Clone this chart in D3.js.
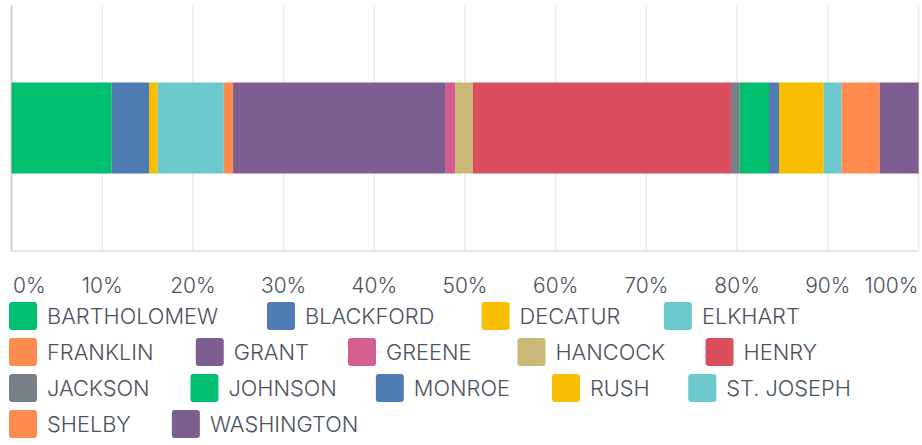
<!DOCTYPE html>
<html><head><meta charset="utf-8">
<script src="https://cdn.jsdelivr.net/npm/d3@7"></script>
<style>
html,body{margin:0;padding:0;background:#fff;}
svg{display:block;font-family:Inter,"Noto Sans",sans-serif;}
</style></head>
<body><svg id="c" width="922" height="445"></svg>
<script>
const counties = ["BARTHOLOMEW","BLACKFORD","DECATUR","ELKHART","FRANKLIN","GRANT","GREENE","HANCOCK","HENRY","JACKSON","JOHNSON","MONROE","RUSH","ST. JOSEPH","SHELBY","WASHINGTON"];
const shares = [11.05,4.11,0.96,7.28,1.03,23.37,1.10,1.98,28.45,0.96,3.23,1.10,4.93,1.98,4.19,4.30];
const colors = ["#00BF6F","#507CB6","#F9BE00","#6BC8CD","#FF8B4F","#7D5E90","#D25F90","#C9B878","#DB4E5D","#768086","#00BF6F","#507CB6","#F9BE00","#6BC8CD","#FF8B4F","#7D5E90"];
const tickValues = [0,10,20,30,40,50,60,70,80,90,100];
const tickLabels = ["0%","10%","20%","30%","40%","50%","60%","70%","80%","90%","100%"];
const barCategory = ["All"];

(function(){
const svg = d3.select("#c");
const pl = 11.5, pr = 918.5, pt = 5, pb = 251;
const x = d3.scaleLinear().domain([0,100]).range([pl,pr]);
const y = d3.scaleBand().domain(barCategory).range([pt,pb]).paddingInner(0.63).paddingOuter(0.315);
const textColor = "#4A5260";

svg.append("g").selectAll("line").data(tickValues.slice(1)).join("line")
  .attr("x1",d=>x(d)).attr("x2",d=>x(d)).attr("y1",pt).attr("y2",pb)
  .attr("stroke","#ebebeb").attr("stroke-width",1.5);
svg.append("line").attr("x1",pl).attr("x2",pr).attr("y1",pb).attr("y2",pb)
  .attr("stroke","#dcdcdc").attr("stroke-width",1.5);
svg.append("line").attr("x1",pl).attr("x2",pl).attr("y1",pt).attr("y2",pb)
  .attr("stroke","#cfcfcf").attr("stroke-width",1.8);

const stack = [];
let acc = 0;
shares.forEach((v,i)=>{ stack.push({name:counties[i],x0:acc,x1:acc+v,color:colors[i]}); acc+=v; });
svg.append("g").selectAll("rect").data(stack).join("rect")
  .attr("x",d=>x(d.x0)).attr("width",d=>x(d.x1)-x(d.x0))
  .attr("y",y("All")).attr("height",y.bandwidth())
  .attr("fill",d=>d.color);

svg.append("g").selectAll("text").data(tickValues).join("text")
  .attr("x",(d,i)=> i===0 ? x(d)+1.5 : x(d))
  .attr("y",293)
  .attr("text-anchor",(d,i)=> i===0 ? "start" : (i===tickValues.length-1 ? "end" : "middle"))
  .attr("font-size",21).attr("font-weight",300).attr("fill",textColor)
  .text((d,i)=>tickLabels[i]);

// legend: item advance measured with a reference sans font (as the original layout engine did)
const meas = svg.append("text").attr("font-family","'Liberation Sans',Arial,sans-serif")
  .attr("font-size",23.9).attr("visibility","hidden");
function measure(s){ meas.text(s); return meas.node().getComputedTextLength(); }
const lg = svg.append("g");
const boxSize = 28, boxGap = 10, itemPad = 30.6, rowH = 36, lx0 = 9, ly0 = 302, maxW = 922;
let cx = lx0, cy = ly0;
counties.forEach((name,i)=>{
  const mw = measure(name);
  if (cx > lx0 && cx + boxSize + boxGap + mw > maxW) { cx = lx0; cy += rowH; }
  const g = lg.append("g");
  g.append("rect").attr("x",cx).attr("y",cy).attr("width",boxSize).attr("height",boxSize)
    .attr("rx",3).attr("fill",colors[i]);
  g.append("text").attr("font-size",21.8).attr("font-weight",300).attr("fill",textColor)
    .attr("x",cx+boxSize+boxGap).attr("y",cy+boxSize/2+8).text(name);
  cx += boxSize + boxGap + mw + itemPad;
});
meas.remove();
})();
</script></body></html>
